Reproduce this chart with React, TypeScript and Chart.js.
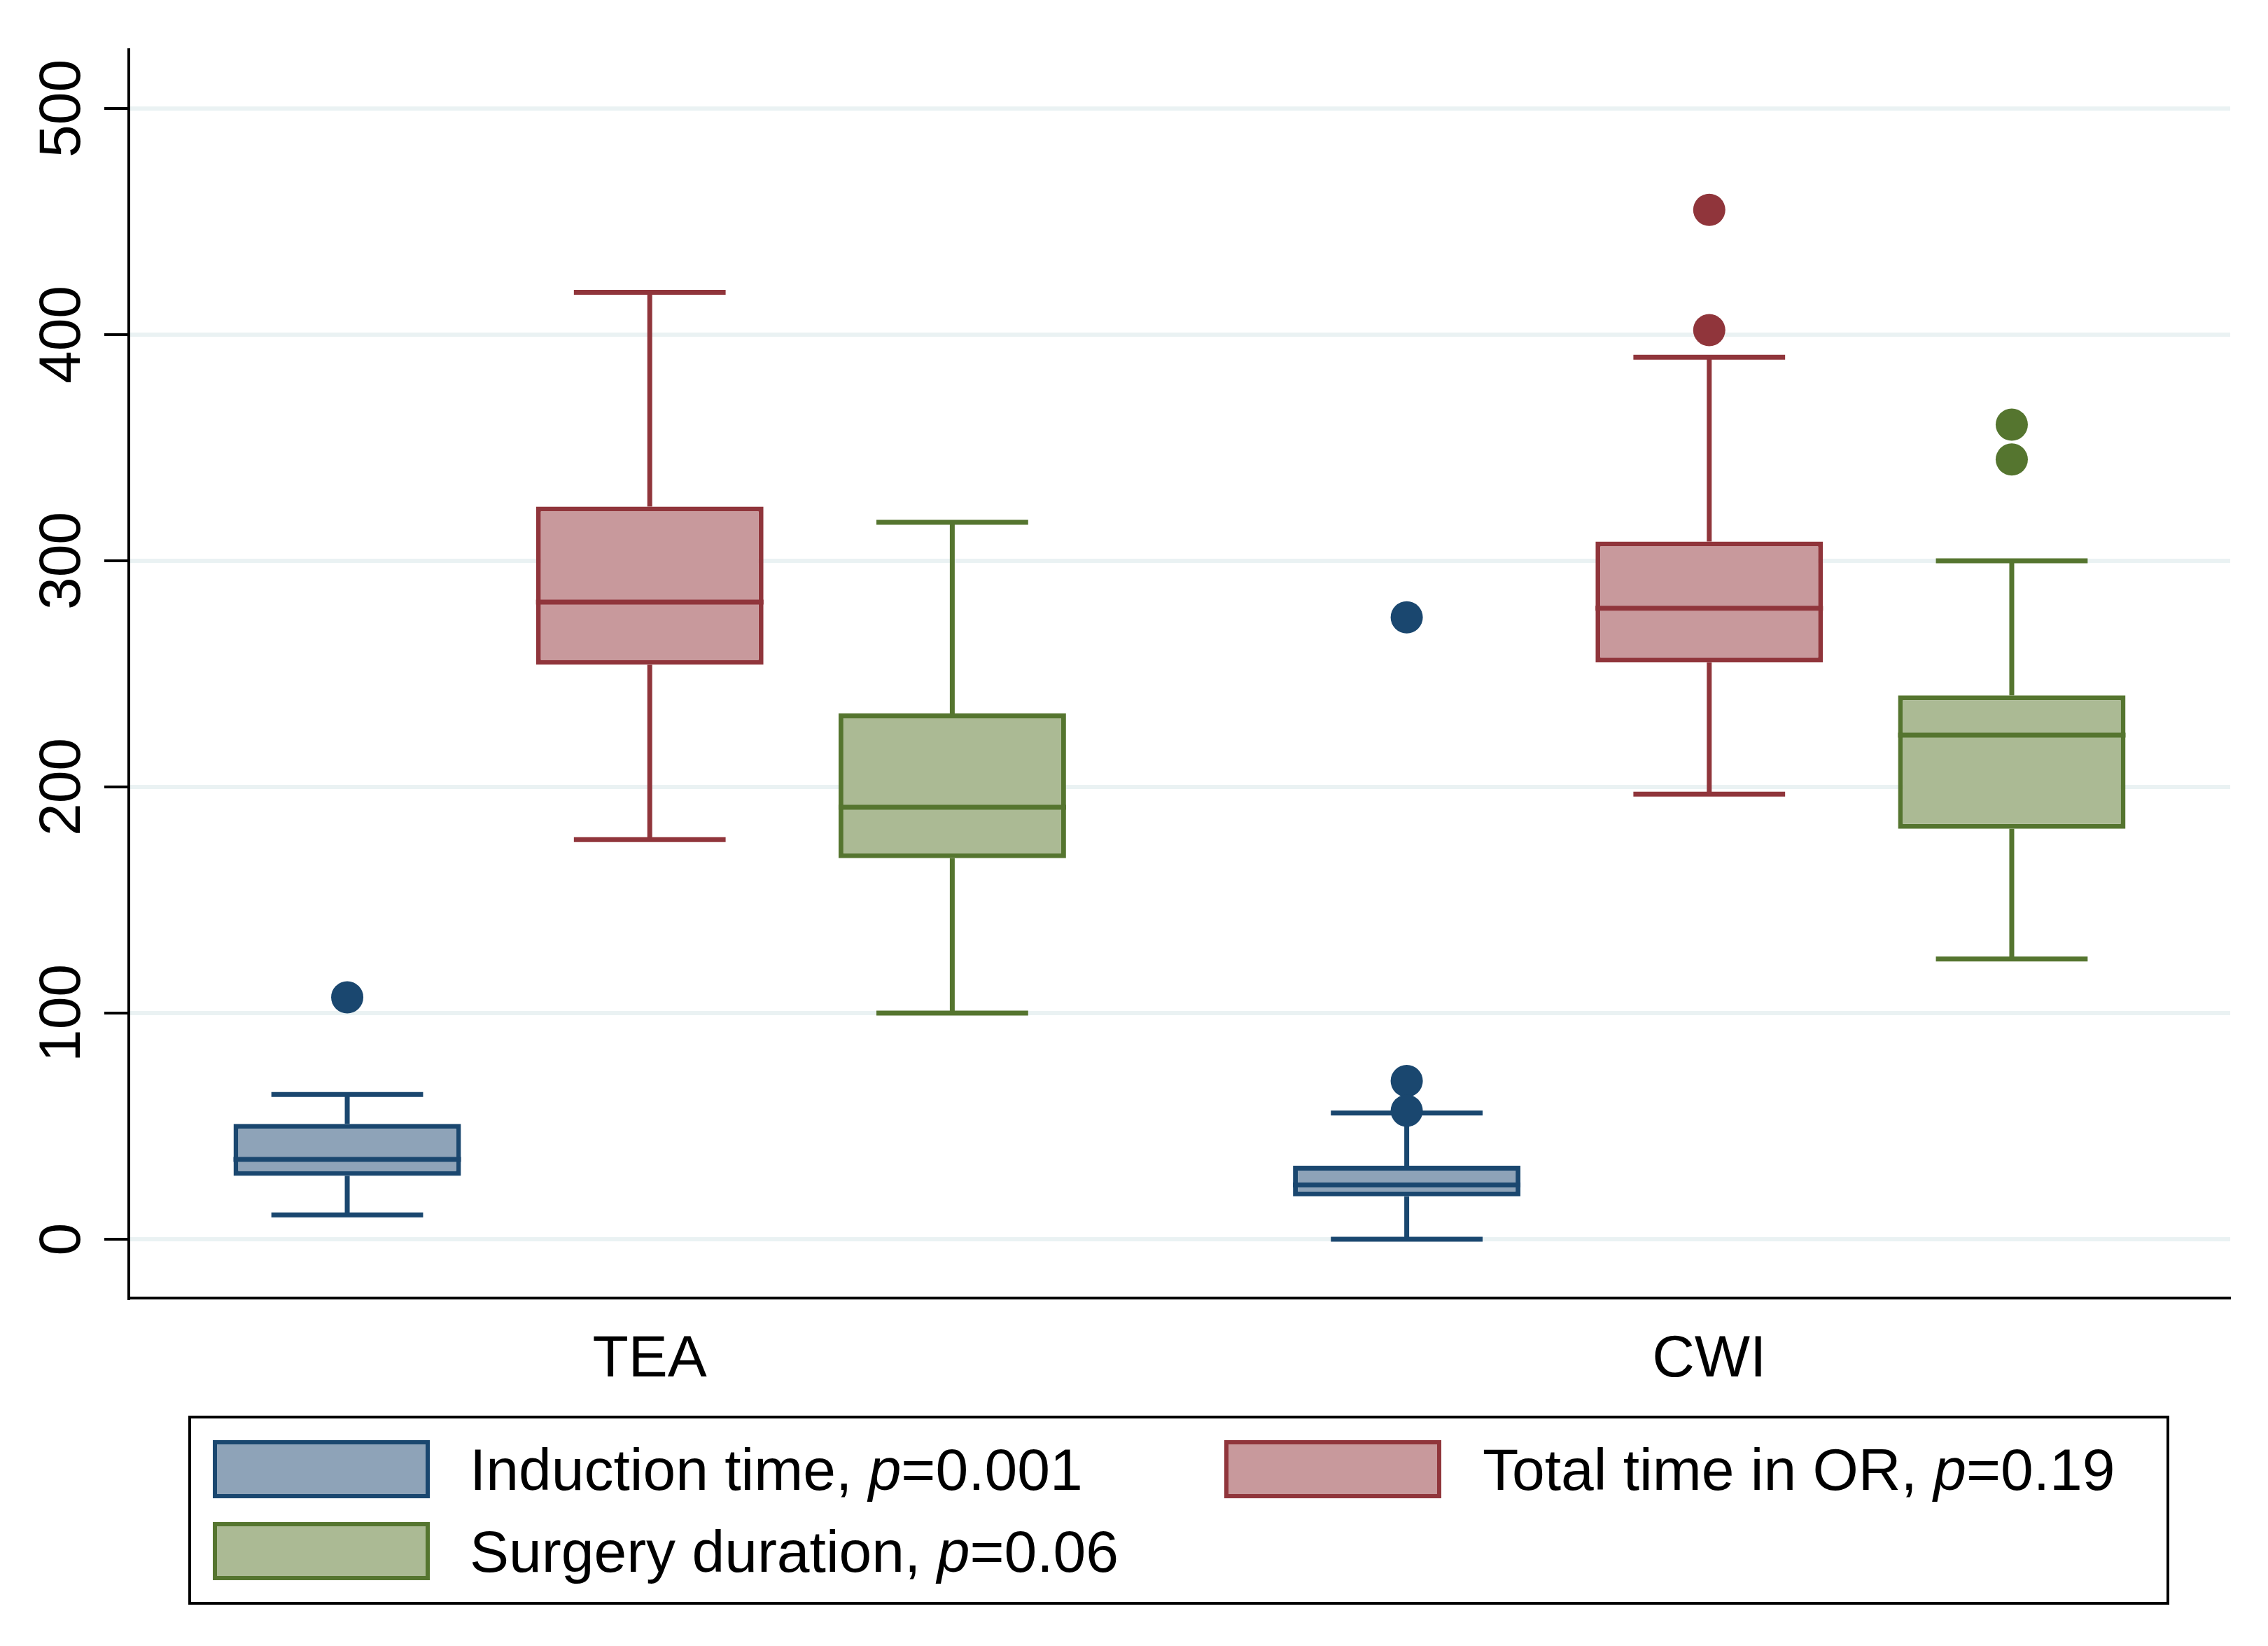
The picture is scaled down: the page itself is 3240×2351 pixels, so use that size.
import React, { useEffect, useRef } from 'react';
import { Chart, registerables } from 'chart.js';

Chart.register(...registerables);

// ---------- data ----------
const categories = ['TEA', 'CWI'];
const categoryPositions = [1, 2];
const seriesNames = ['Induction time', 'Total time in OR', 'Surgery duration'];
const pValues = ['0.001', '0.19', '0.06'];

const inductionLow = [10.8, 0];
const inductionQ1 = [28, 19];
const inductionMedian = [35.3, 24];
const inductionQ3 = [51, 32.5];
const inductionHigh = [64, 55.8];
const inductionOutliers = [[107], [275, 70, 56.8]];

const totalLow = [176.7, 196.8];
const totalQ1 = [254, 255];
const totalMedian = [281.7, 279];
const totalQ3 = [324, 308.5];
const totalHigh = [418.7, 390];
const totalOutliers = [[], [455.2, 402]];

const surgeryLow = [100, 123.9];
const surgeryQ1 = [168.5, 181.5];
const surgeryMedian = [191, 222.9];
const surgeryQ3 = [232.5, 240.5];
const surgeryHigh = [317, 300];
const surgeryOutliers = [[], [360.2, 344.8]];

const yTicks = [0, 100, 200, 300, 400, 500];

// ---------- styles ----------
const lineColors = ['#1a476f', '#90353b', '#55752f'];
const fillColors = ['#8ea3b8', '#c8999c', '#abba94'];
const FONT = '"Liberation Sans", Arial, Helvetica, sans-serif';

const stats = [
  { low: inductionLow, q1: inductionQ1, med: inductionMedian, q3: inductionQ3, high: inductionHigh, out: inductionOutliers },
  { low: totalLow, q1: totalQ1, med: totalMedian, q3: totalQ3, high: totalHigh, out: totalOutliers },
  { low: surgeryLow, q1: surgeryQ1, med: surgeryMedian, q3: surgeryQ3, high: surgeryHigh, out: surgeryOutliers },
];

const boxPlugin = {
  id: 'boxParts',
  afterDatasetsDraw(chart: any) {
    const ctx = chart.ctx;
    const y = chart.scales.y;
    stats.forEach((s, d) => {
      const meta = chart.getDatasetMeta(d);
      meta.data.forEach((el: any, i: number) => {
        const x = el.x;
        const w = el.width;
        const capHalf = (w * 0.667) / 2;
        const py = (v: number) => y.getPixelForValue(v);
        ctx.save();
        ctx.strokeStyle = lineColors[d];
        ctx.lineCap = 'butt';
        ctx.lineWidth = 7;
        ctx.beginPath();
        ctx.moveTo(x, py(s.q3[i]));
        ctx.lineTo(x, py(s.high[i]));
        ctx.moveTo(x - capHalf, py(s.high[i]));
        ctx.lineTo(x + capHalf, py(s.high[i]));
        ctx.moveTo(x, py(s.q1[i]));
        ctx.lineTo(x, py(s.low[i]));
        ctx.moveTo(x - capHalf, py(s.low[i]));
        ctx.lineTo(x + capHalf, py(s.low[i]));
        ctx.stroke();
        ctx.lineWidth = 7;
        ctx.beginPath();
        ctx.moveTo(x - w / 2, py(s.med[i]));
        ctx.lineTo(x + w / 2, py(s.med[i]));
        ctx.stroke();
        ctx.fillStyle = lineColors[d];
        s.out[i].forEach((v: number) => {
          ctx.beginPath();
          ctx.arc(x, py(v), 23, 0, Math.PI * 2);
          ctx.fill();
        });
        ctx.restore();
      });
    });
  },
};

function ChartCanvas() {
  const ref = useRef<HTMLCanvasElement | null>(null);
  useEffect(() => {
    if (!ref.current) return;
    const chart = new Chart(ref.current, {
      type: 'bar',
      data: {
        datasets: stats.map((s, d) => ({
          label: seriesNames[d],
          data: categoryPositions.map((p, i) => ({ x: p, y: [s.q1[i], s.q3[i]] })),
          backgroundColor: fillColors[d],
          borderColor: lineColors[d],
          borderWidth: 7,
          borderSkipped: false,
          categoryPercentage: 0.8566,
          barPercentage: 0.752,
        })) as any,
      },
      options: {
        animation: false,
        responsive: false,
        devicePixelRatio: 1,
        layout: { padding: { top: 71, right: 54, left: 0, bottom: 0 } },
        plugins: { legend: { display: false }, tooltip: { enabled: false } },
        scales: {
          x: {
            type: 'linear',
            min: 0.5083,
            max: 2.4917,
            offset: false,
            afterFit: (s: any) => { s.height = 146; },
            afterBuildTicks: (s: any) => { s.ticks = categoryPositions.map((v) => ({ value: v })); },
            grid: { display: true, drawOnChartArea: false, drawTicks: false, color: 'rgba(0,0,0,0)' },
            border: { display: true, color: '#000', width: 4 },
            ticks: {
              color: '#000',
              font: { family: FONT, size: 84 },
              padding: 38,
              maxRotation: 0,
              autoSkip: false,
              callback: (v: any) => categories[categoryPositions.indexOf(Number(v))] ?? '',
            },
          },
          y: {
            type: 'linear',
            min: -26,
            max: 526,
            afterFit: (s: any) => { s.width = 184; },
            afterBuildTicks: (s: any) => { s.ticks = yTicks.map((v) => ({ value: v })); },
            grid: { color: '#eaf2f3', lineWidth: 6, tickColor: '#000', tickLength: 35, tickWidth: 4, drawTicks: true },
            border: { display: true, color: '#000', width: 4 },
            ticks: {
              color: '#000',
              font: { family: FONT, size: 84 },
              minRotation: 90,
              maxRotation: 90,
              crossAlign: 'center',
              padding: -12,
              includeBounds: false,
            },
          },
        },
      } as any,
      plugins: [boxPlugin],
    });
    return () => chart.destroy();
  }, []);
  return <canvas ref={ref} width={3240} height={2000} style={{ position: 'absolute', left: 0, top: 0 }} />;
}

function Legend() {
  const swatch = (d: number, left: number, top: number) => (
    <div
      style={{
        position: 'absolute', left, top, width: 310, height: 83, boxSizing: 'border-box',
        border: `6px solid ${lineColors[d]}`, background: fillColors[d],
      }}
    />
  );
  const label = (d: number, left: number, centerY: number) => (
    <div
      style={{
        position: 'absolute', left, top: centerY - 50, height: 100, lineHeight: '100px',
        fontFamily: FONT, fontSize: 84, color: '#000', whiteSpace: 'nowrap',
      }}
    >
      {seriesNames[d]}, <i>p</i>={pValues[d]}
    </div>
  );
  return (
    <>
      <div
        style={{
          position: 'absolute', left: 269, top: 2022, width: 2830, height: 270,
          boxSizing: 'border-box', border: '4px solid #000', background: '#fff',
        }}
      />
      {swatch(0, 304, 2057)}
      {label(0, 671, 2099)}
      {swatch(1, 1749, 2057)}
      {label(1, 2118, 2099)}
      {swatch(2, 304, 2174)}
      {label(2, 671, 2216)}
    </>
  );
}

export default function App() {
  return (
    <div style={{ position: 'absolute', left: 0, top: 0, width: 3240, height: 2351, background: '#fff', overflow: 'hidden' }}>
      <ChartCanvas />
      <Legend />
    </div>
  );
}
